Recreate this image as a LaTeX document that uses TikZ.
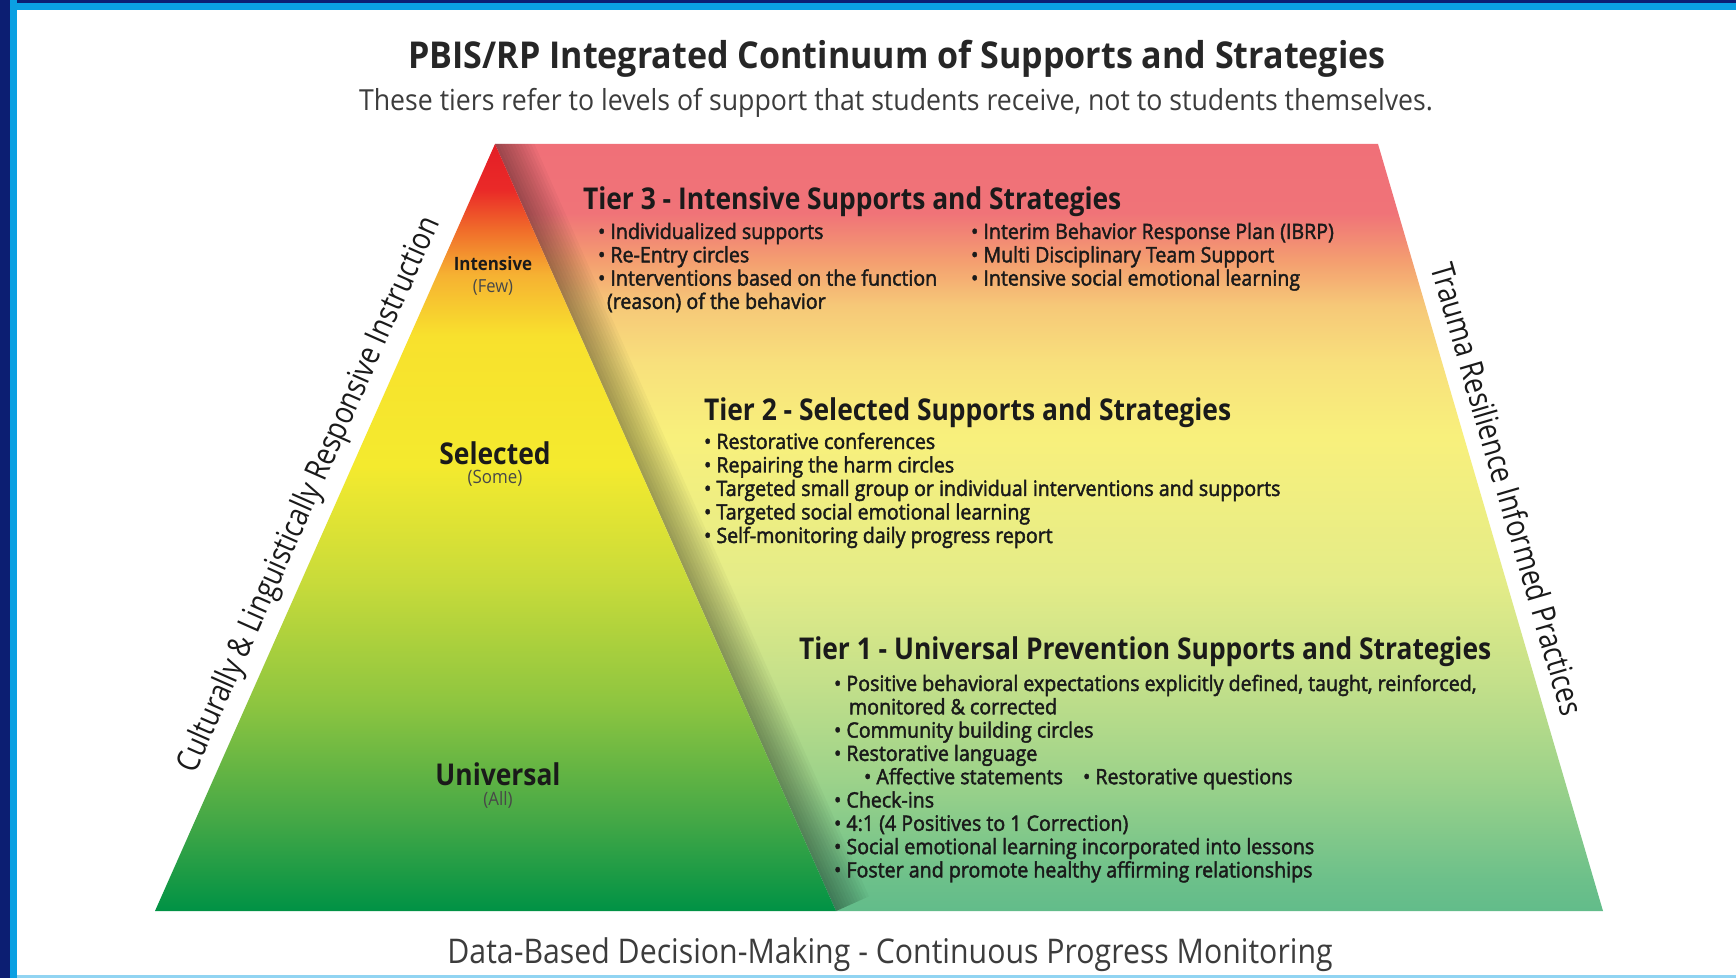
\documentclass[tikz,border=0pt]{standalone}
\usepackage{fontspec}
\setmainfont{Open Sans}[FakeStretch=0.84]
\newfontfamily\fA{Open Sans}[FakeStretch=0.92]
\newfontfamily\fB{Open Sans}[FakeStretch=0.89]
\newfontfamily\fH{Open Sans}[FakeStretch=0.88]
\newfontfamily\fL{Open Sans}[FakeStretch=0.925, FakeBold=2]
\usetikzlibrary{calc}
\definecolor{navy}{HTML}{0C1E72}
\definecolor{fblue}{HTML}{0AA0E2}
\definecolor{txt}{HTML}{1A1A1A}
\definecolor{gtxt}{HTML}{3C3C3C}
% pyramid colours
\definecolor{p0}{HTML}{009245}
\definecolor{p1}{HTML}{45A846}
\definecolor{p2}{HTML}{8DC540}
\definecolor{p3}{HTML}{C8DB3A}
\definecolor{p4}{HTML}{F4EA2E}
\definecolor{p5}{HTML}{F8E12D}
\definecolor{p6}{HTML}{F6B132}
\definecolor{p7}{HTML}{F06A2A}
\definecolor{p8}{HTML}{EA2A28}
\definecolor{p9}{HTML}{E41E26}
% trapezoid colours
\definecolor{q0}{HTML}{62BC8A}
\definecolor{q1}{HTML}{6CC08A}
\definecolor{q2}{HTML}{9CD28A}
\definecolor{q3}{HTML}{C4E08A}
\definecolor{q4}{HTML}{E4EC88}
\definecolor{q5}{HTML}{F8F07C}
\definecolor{q6}{HTML}{F8E07C}
\definecolor{q7}{HTML}{F6C878}
\definecolor{q8}{HTML}{F4A070}
\definecolor{q9}{HTML}{F07378}
\definecolor{q10}{HTML}{F07078}
\pgfdeclareverticalshading{pyr}{100bp}{color(0bp)=(p0); color(25bp)=(p0); color(31bp)=(p1); color(38.5bp)=(p2); color(46.5bp)=(p3); color(54bp)=(p4); color(62.5bp)=(p5); color(66.5bp)=(p6); color(69.5bp)=(p7); color(72bp)=(p8); color(75bp)=(p9); color(100bp)=(p9)}
\pgfdeclareverticalshading{trap}{100bp}{color(0bp)=(q0); color(25bp)=(q0); color(27bp)=(q1); color(33.5bp)=(q2); color(40bp)=(q3); color(46.5bp)=(q4); color(56bp)=(q5); color(60.75bp)=(q6); color(64.5bp)=(q7); color(67.25bp)=(q8); color(70.5bp)=(q9); color(75bp)=(q10); color(100bp)=(q10)}
\begin{document}
\begin{tikzpicture}[x=0.5pt,y=-0.5pt,
  every node/.style={inner sep=0pt, outer sep=0pt},
  ttl/.style={font=\fA\bfseries\fontsize{18.5}{20}\selectfont, text=black!85, anchor=base},
  sub/.style={font=\fA\fontsize{14.5}{16}\selectfont, text=gtxt, anchor=base},
  foot/.style={font=\fB\fontsize{17}{19}\selectfont, text=gtxt, anchor=base},
  head/.style={font=\fH\bfseries\fontsize{15}{17}\selectfont, text=txt, anchor=base west},
  bul/.style={font=\fL\fontsize{10.6}{12}\selectfont, text=txt, anchor=base west},
  lvl/.style={font=\fH\bfseries\fontsize{15}{17}\selectfont, text=txt, anchor=base},
  lvlsm/.style={font=\fA\fontsize{9.2}{10}\selectfont, text=txt!80, anchor=base},
  side/.style={font=\fontsize{16}{18}\selectfont, text=txt}
]
\useasboundingbox (0,0) rectangle (1736,978);
% frame
\fill[white] (0,0) rectangle (1736,978);
\fill[fblue] (0,0) rectangle (1736,10);
\fill[navy] (0,0) rectangle (1736,3);
\fill[fblue] (10,0) rectangle (17,978);
\fill[navy] (0,0) rectangle (10,978);
\fill[fblue!45] (17,975) rectangle (1736,978);
% shapes
\coordinate (apex) at (495,144);
\coordinate (bl) at (155,911);
\coordinate (bm) at (836,911);
\coordinate (tr) at (1378,144);
\coordinate (br) at (1603,911);
\shade[shading=trap] (apex) -- (tr) -- (br) -- (bm) -- cycle;
\begin{scope}
  \clip (apex) -- (tr) -- (br) -- (bm) -- cycle;
  \foreach \w in {3,6,...,36}
    \fill[black, opacity=0.032] (apex) -- (bm) -- ($(bm)+(0.9142*\w,-0.4064*\w)$) -- ($(apex)+(0.9142*\w,-0.4064*\w)$) -- cycle;
\end{scope}
\shade[shading=pyr] (apex) -- (bm) -- (bl) -- cycle;
% titles
\node[ttl] (title) at (897,69) {PBIS/RP Integrated Continuum of Supports and Strategies};
\node[sub] (subtitle) at (896,111) {These tiers refer to levels of support that students receive, not to students themselves.};
\node[foot] (footer) at (890,963) {Data-Based Decision-Making - Continuous Progress Monitoring};
% side labels
\node[side, rotate=66.1] (left) at (310,495) {Culturally \& Linguistically Responsive Instruction};
\node[side, rotate=-73.65] (right) at (1508,489) {Trauma Resilience Informed Practices};
% pyramid labels
\node[lvl, font=\fA\bfseries\fontsize{9.2}{10}\selectfont] (intensive) at (493,271) {Intensive};
\node[lvlsm, font=\fA\fontsize{9}{10}\selectfont] (few) at (493,293) {(Few)};
\node[lvl] (selected) at (495,465) {Selected};
\node[lvlsm] (some) at (495,484) {(Some)};
\node[lvl] (universal) at (498,785) {Universal};
\node[lvlsm] (all) at (498,805) {(All)};
% Tier 3
\node[head] (t3) at (583,210) {Tier 3 - Intensive Supports and Strategies};
\node[bul] (t3a) at (598,239) {• Individualized supports};
\node[bul] (t3b) at (598,262.3) {• Re-Entry circles};
\node[bul] (t3c) at (598,285.6) {• Interventions based on the function};
\node[bul] (t3d) at (607,308.9) {(reason) of the behavior};
\node[bul] (t3e) at (971,239) {• Interim Behavior Response Plan (IBRP)};
\node[bul] (t3f) at (971,262.3) {• Multi Disciplinary Team Support};
\node[bul] (t3g) at (971,285.6) {• Intensive social emotional learning};
% Tier 2
\node[head] (t2) at (704,421) {Tier 2 - Selected Supports and Strategies};
\node[bul] (t2a) at (704,449) {• Restorative conferences};
\node[bul] (t2b) at (704,472.5) {• Repairing the harm circles};
\node[bul] (t2c) at (704,496) {• Targeted small group or individual interventions and supports};
\node[bul] (t2d) at (704,519.5) {• Targeted social emotional learning};
\node[bul] (t2e) at (704,543) {• Self-monitoring daily progress report};
% Tier 1
\node[head] (t1) at (799,660) {Tier 1 - Universal Prevention Supports and Strategies};
\node[bul] (t1a) at (834,691) {• Positive behavioral expectations explicitly defined, taught, reinforced,};
\node[bul] (t1b) at (849,714.3) {monitored \& corrected};
\node[bul] (t1c) at (834,737.6) {• Community building circles};
\node[bul] (t1d) at (834,760.9) {• Restorative language};
\node[bul] (t1e) at (864,784.2) {• Affective statements};
\node[bul] (t1f) at (1083,784.2) {• Restorative questions};
\node[bul] (t1g) at (834,807.5) {• Check-ins};
\node[bul] (t1h) at (834,830.8) {• 4:1 (4 Positives to 1 Correction)};
\node[bul] (t1i) at (834,854.1) {• Social emotional learning incorporated into lessons};
\node[bul] (t1j) at (834,877.4) {• Foster and promote healthy affirming relationships};
\end{tikzpicture}
\end{document}
